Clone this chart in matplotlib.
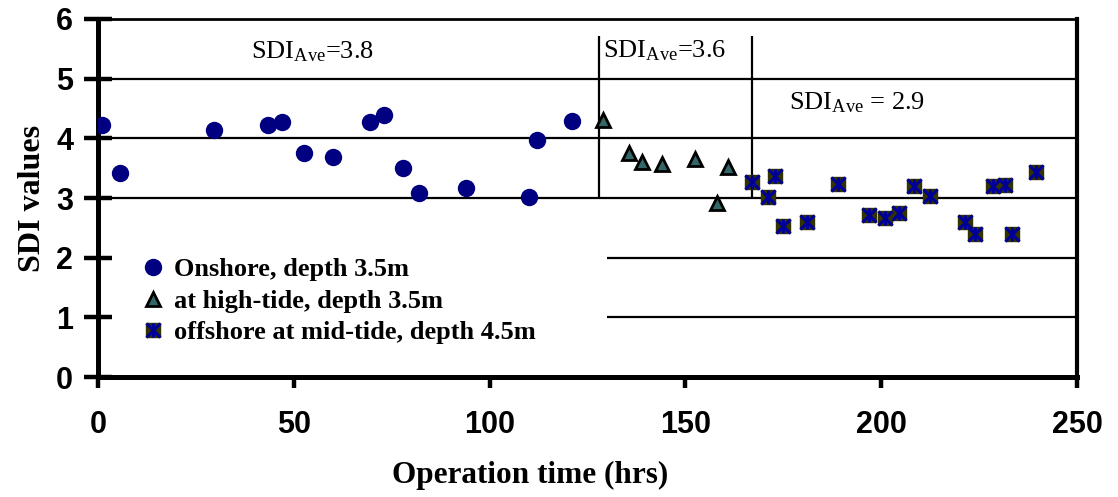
import matplotlib
matplotlib.use("Agg")
import matplotlib.pyplot as plt

plt.rcParams['mathtext.fontset'] = 'custom'
plt.rcParams['mathtext.rm'] = 'Liberation Serif'
plt.rcParams['mathtext.it'] = 'Liberation Serif:italic'

# ---- data ----
onshore_x = [1, 5.5, 29.5, 43.5, 47, 52.5, 60, 69.5, 73, 78, 82, 94, 110, 112, 121]
onshore_y = [4.22, 3.42, 4.14, 4.22, 4.28, 3.76, 3.68, 4.28, 4.39, 3.50, 3.09, 3.16, 3.01, 3.97, 4.29]

hightide_x = [129, 135.5, 139, 144, 152.5, 158, 161]
hightide_y = [4.30, 3.75, 3.61, 3.57, 3.65, 2.91, 3.52]

offshore_x = [167, 171, 173, 175, 181, 189, 197, 201, 204.5, 208.5, 212.5, 221.5, 224, 228.5, 231.5, 233.5, 239.5]
offshore_y = [3.26, 3.01, 3.37, 2.53, 2.60, 3.24, 2.71, 2.66, 2.75, 3.20, 3.04, 2.60, 2.40, 3.20, 3.22, 2.40, 3.43]

series_labels = ["Onshore, depth 3.5m", "at high-tide, depth 3.5m", "offshore at mid-tide, depth 4.5m"]
x_ticks = [0, 50, 100, 150, 200, 250]
y_ticks = [0, 1, 2, 3, 4, 5, 6]
period_bounds = [128, 167]
period_labels = [r"SDI$_{\rm Ave}$=3.8", r"SDI$_{\rm Ave}$=3.6", r"SDI$_{\rm Ave}$ = 2.9"]

# ---- figure ----
fig = plt.figure(figsize=(11.18, 4.97), dpi=100)
ax = fig.add_axes([0.0877, 0.2414, 0.9633 - 0.0877, 0.9618 - 0.2414])
ax.set_xlim(0, 250)
ax.set_ylim(0, 6)

# gridlines
for yv in [3, 4, 5]:
    ax.hlines(yv, 0, 250, color='black', lw=1.6, zorder=1)
for yv in [1, 2]:
    ax.hlines(yv, 130, 250, color='black', lw=1.6, zorder=1)
for xv in period_bounds:
    ax.vlines(xv, 3, 5.71, color='black', lw=1.6, zorder=1)

# series
h1, = ax.plot(onshore_x, onshore_y, 'o', ms=11.5, color='#000080', mec='#000080', zorder=3)
h2, = ax.plot(hightide_x, hightide_y, '^', ms=10, mfc='#336666', mec='black', mew=2, zorder=3)
h3a, = ax.plot(offshore_x, offshore_y, 's', ms=10.5, mfc='#333300', mec='#333300', zorder=3)
h3b, = ax.plot(offshore_x, offshore_y, 'x', ms=10.5, color='#000099', mew=2.2, zorder=4)
h3c, = ax.plot(offshore_x, offshore_y, '|', ms=10.5, color='#000099', mew=2.2, zorder=4)

# annotations
ax.text(39, 5.45, period_labels[0], fontsize=19, family='Liberation Serif', va='center', ha='left')
ax.text(129.0, 5.47, period_labels[1], fontsize=19, family='Liberation Serif', va='center', ha='left')
ax.text(176.5, 4.6, period_labels[2], fontsize=19, family='Liberation Serif', va='center', ha='left')

leg = ax.legend([h1, h2, (h3a, h3b, h3c)], series_labels, loc='upper left',
                bbox_to_anchor=(0.036, 0.363), frameon=False, handlelength=0.7,
                handletextpad=0.45, labelspacing=0.31, borderaxespad=0,
                prop={'family': 'Liberation Serif', 'weight': 'bold', 'size': 19})

# spines
for s in ['left', 'bottom']:
    ax.spines[s].set_linewidth(3.6)
ax.spines['right'].set_linewidth(3.0)
ax.spines['top'].set_linewidth(2.0)

ax.set_xticks(x_ticks)
ax.set_yticks(y_ticks)
ax.tick_params(axis='y', direction='inout', length=20, width=3.2, pad=8)
ax.tick_params(axis='x', direction='out', length=8, width=3.2, pad=16)
for lab in ax.get_xticklabels() + ax.get_yticklabels():
    lab.set_fontfamily('Liberation Sans')
    lab.set_fontweight('bold')
    lab.set_fontsize(22)

ax.set_xlabel("Operation time (hrs)", fontsize=22.5, family='Liberation Serif', weight='bold')
ax.set_ylabel("SDI values", fontsize=23, family='Liberation Serif', weight='bold')
ax.xaxis.set_label_coords(0.441, -0.235)
ax.yaxis.set_label_coords(-0.052, 0.5)

fig.savefig("out.png", dpi=100)
